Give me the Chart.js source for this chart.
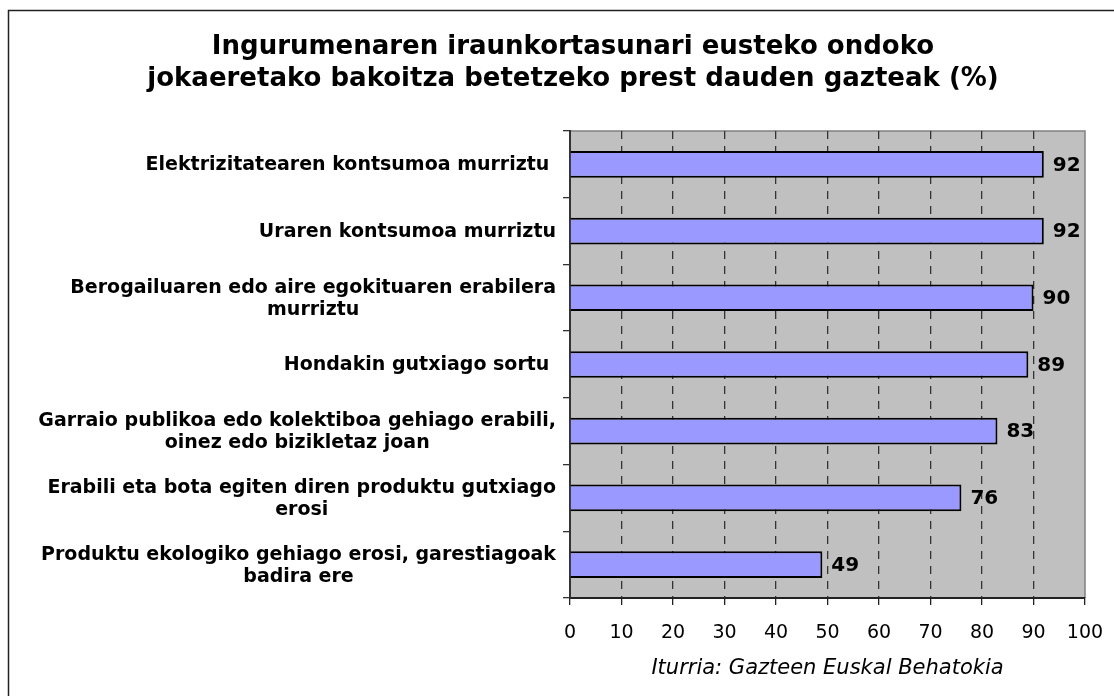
<!DOCTYPE html>
<html><head><meta charset="utf-8">
<script src="https://cdn.jsdelivr.net/npm/chart.js@4.4.0/dist/chart.umd.min.js"></script>
<style>html,body{margin:0;padding:0;background:#fff;}</style>
</head><body>
<canvas id="c" width="1114" height="696" style="display:block;width:1114px;height:696px"></canvas>
<script>
const titleLines = ["Ingurumenaren iraunkortasunari eusteko ondoko", "jokaeretako bakoitza betetzeko prest dauden gazteak (%)"];
const categories = [
  ["Elektrizitatearen kontsumoa murriztu "],
  ["Uraren kontsumoa murriztu"],
  ["Berogailuaren edo aire egokituaren erabilera", "murriztu"],
  ["Hondakin gutxiago sortu "],
  ["Garraio publikoa edo kolektiboa gehiago erabili,", "oinez edo bizikletaz joan"],
  ["Erabili eta bota egiten diren produktu gutxiago", "erosi"],
  ["Produktu ekologiko gehiago erosi, garestiagoak", "badira ere"]
];
const values = [92, 92, 90, 89, 83, 76, 49];
const xMin = 0, xMax = 100, xStep = 10;
const sourceText = "Iturria: Gazteen Euskal Behatokia";

const FONT = "DejaVu Sans";
const PAD_LEFT = 61, PAD_RIGHT = 29;

const frame = {
  id: 'frame',
  beforeDraw(chart) {
    const ctx = chart.ctx, a = chart.chartArea;
    ctx.save();
    ctx.strokeStyle = '#222'; ctx.lineWidth = 1.5;
    ctx.strokeRect(8.5, 10.5, 1300, 1000);
    ctx.fillStyle = '#C0C0C0';
    ctx.fillRect(a.left, a.top, a.right - a.left, a.bottom - a.top);
    ctx.strokeStyle = '#808080'; ctx.lineWidth = 1.5;
    ctx.beginPath();
    ctx.moveTo(a.left, a.top); ctx.lineTo(a.right, a.top); ctx.lineTo(a.right, a.bottom);
    ctx.stroke();
    ctx.restore();
  }
};

const yLabels = {
  id: 'yLabels',
  afterDraw(chart) {
    const ctx = chart.ctx, ys = chart.scales.y;
    const lh = 22;
    ctx.save();
    ctx.font = "bold 19px '" + FONT + "'";
    ctx.fillStyle = '#000';
    ctx.textAlign = 'center';
    ctx.textBaseline = 'middle';
    const right = ys.right - 7 - 7;
    categories.forEach((lines, i) => {
      const y = ys.getPixelForTick(i);
      let w = 0;
      lines.forEach(l => { w = Math.max(w, ctx.measureText(l).width); });
      const cx = right - w / 2;
      lines.forEach((l, j) => {
        ctx.fillText(l, cx, y + 1 + (j - (lines.length - 1) / 2) * lh);
      });
    });
    ctx.restore();
  }
};

const valueLabels = {
  id: 'valueLabels',
  afterDatasetsDraw(chart) {
    const ctx = chart.ctx;
    const meta = chart.getDatasetMeta(0);
    ctx.save();
    ctx.font = "bold 20px '" + FONT + "'";
    ctx.fillStyle = '#000';
    ctx.textAlign = 'left';
    ctx.textBaseline = 'middle';
    meta.data.forEach((bar, i) => {
      ctx.fillText(String(values[i]), bar.x + 9, bar.y + 1);
    });
    ctx.restore();
  }
};

new Chart(document.getElementById('c'), {
  type: 'bar',
  data: {
    labels: categories,
    datasets: [{
      data: values,
      backgroundColor: '#9999FF',
      borderColor: '#000',
      borderWidth: 2,
      barPercentage: 0.4,
      categoryPercentage: 1.0
    }]
  },
  options: {
    indexAxis: 'y',
    responsive: false,
    animation: false,
    devicePixelRatio: 1,
    layout: { padding: { left: PAD_LEFT, right: PAD_RIGHT, top: 0, bottom: 0 } },
    plugins: {
      legend: { display: false },
      tooltip: { enabled: false },
      title: {
        display: true,
        text: titleLines,
        color: '#000',
        font: { family: FONT, size: 26, weight: 'bold', lineHeight: 1.23 },
        padding: { top: 31, bottom: 36 }
      }
    },
    scales: {
      x: {
        type: 'linear',
        min: xMin, max: xMax,
        ticks: { stepSize: xStep, color: '#000', font: { family: FONT, size: 19, lineHeight: 1.85 }, padding: 10, maxRotation: 0 },
        grid: {
          color: (c) => (c.tick && (c.tick.value === xMin || c.tick.value === xMax)) ? 'rgba(0,0,0,0)' : '#333',
          tickColor: '#222',
          lineWidth: 1.3,
          tickLength: 7
        },
        border: { display: true, color: '#222', width: 2, dash: [8, 7] },
        title: {
          display: true, text: sourceText, color: '#000',
          font: { family: FONT, size: 21, style: 'italic' },
          padding: { top: 0, bottom: 15 }
        },
        afterFit(s) { s.height = 98; }
      },
      y: {
        type: 'category',
        offset: true,
        ticks: { color: 'rgba(0,0,0,0)', font: { family: FONT, size: 19, weight: 'bold' } },
        grid: { offset: true, drawOnChartArea: false, drawTicks: true, tickLength: 7, tickColor: '#333', lineWidth: 1.3 },
        border: { display: true, color: '#333', width: 2 },
        afterFit(s) { s.width = 570 - PAD_LEFT; }
      }
    }
  },
  plugins: [frame, yLabels, valueLabels]
});
</script>
</body></html>
